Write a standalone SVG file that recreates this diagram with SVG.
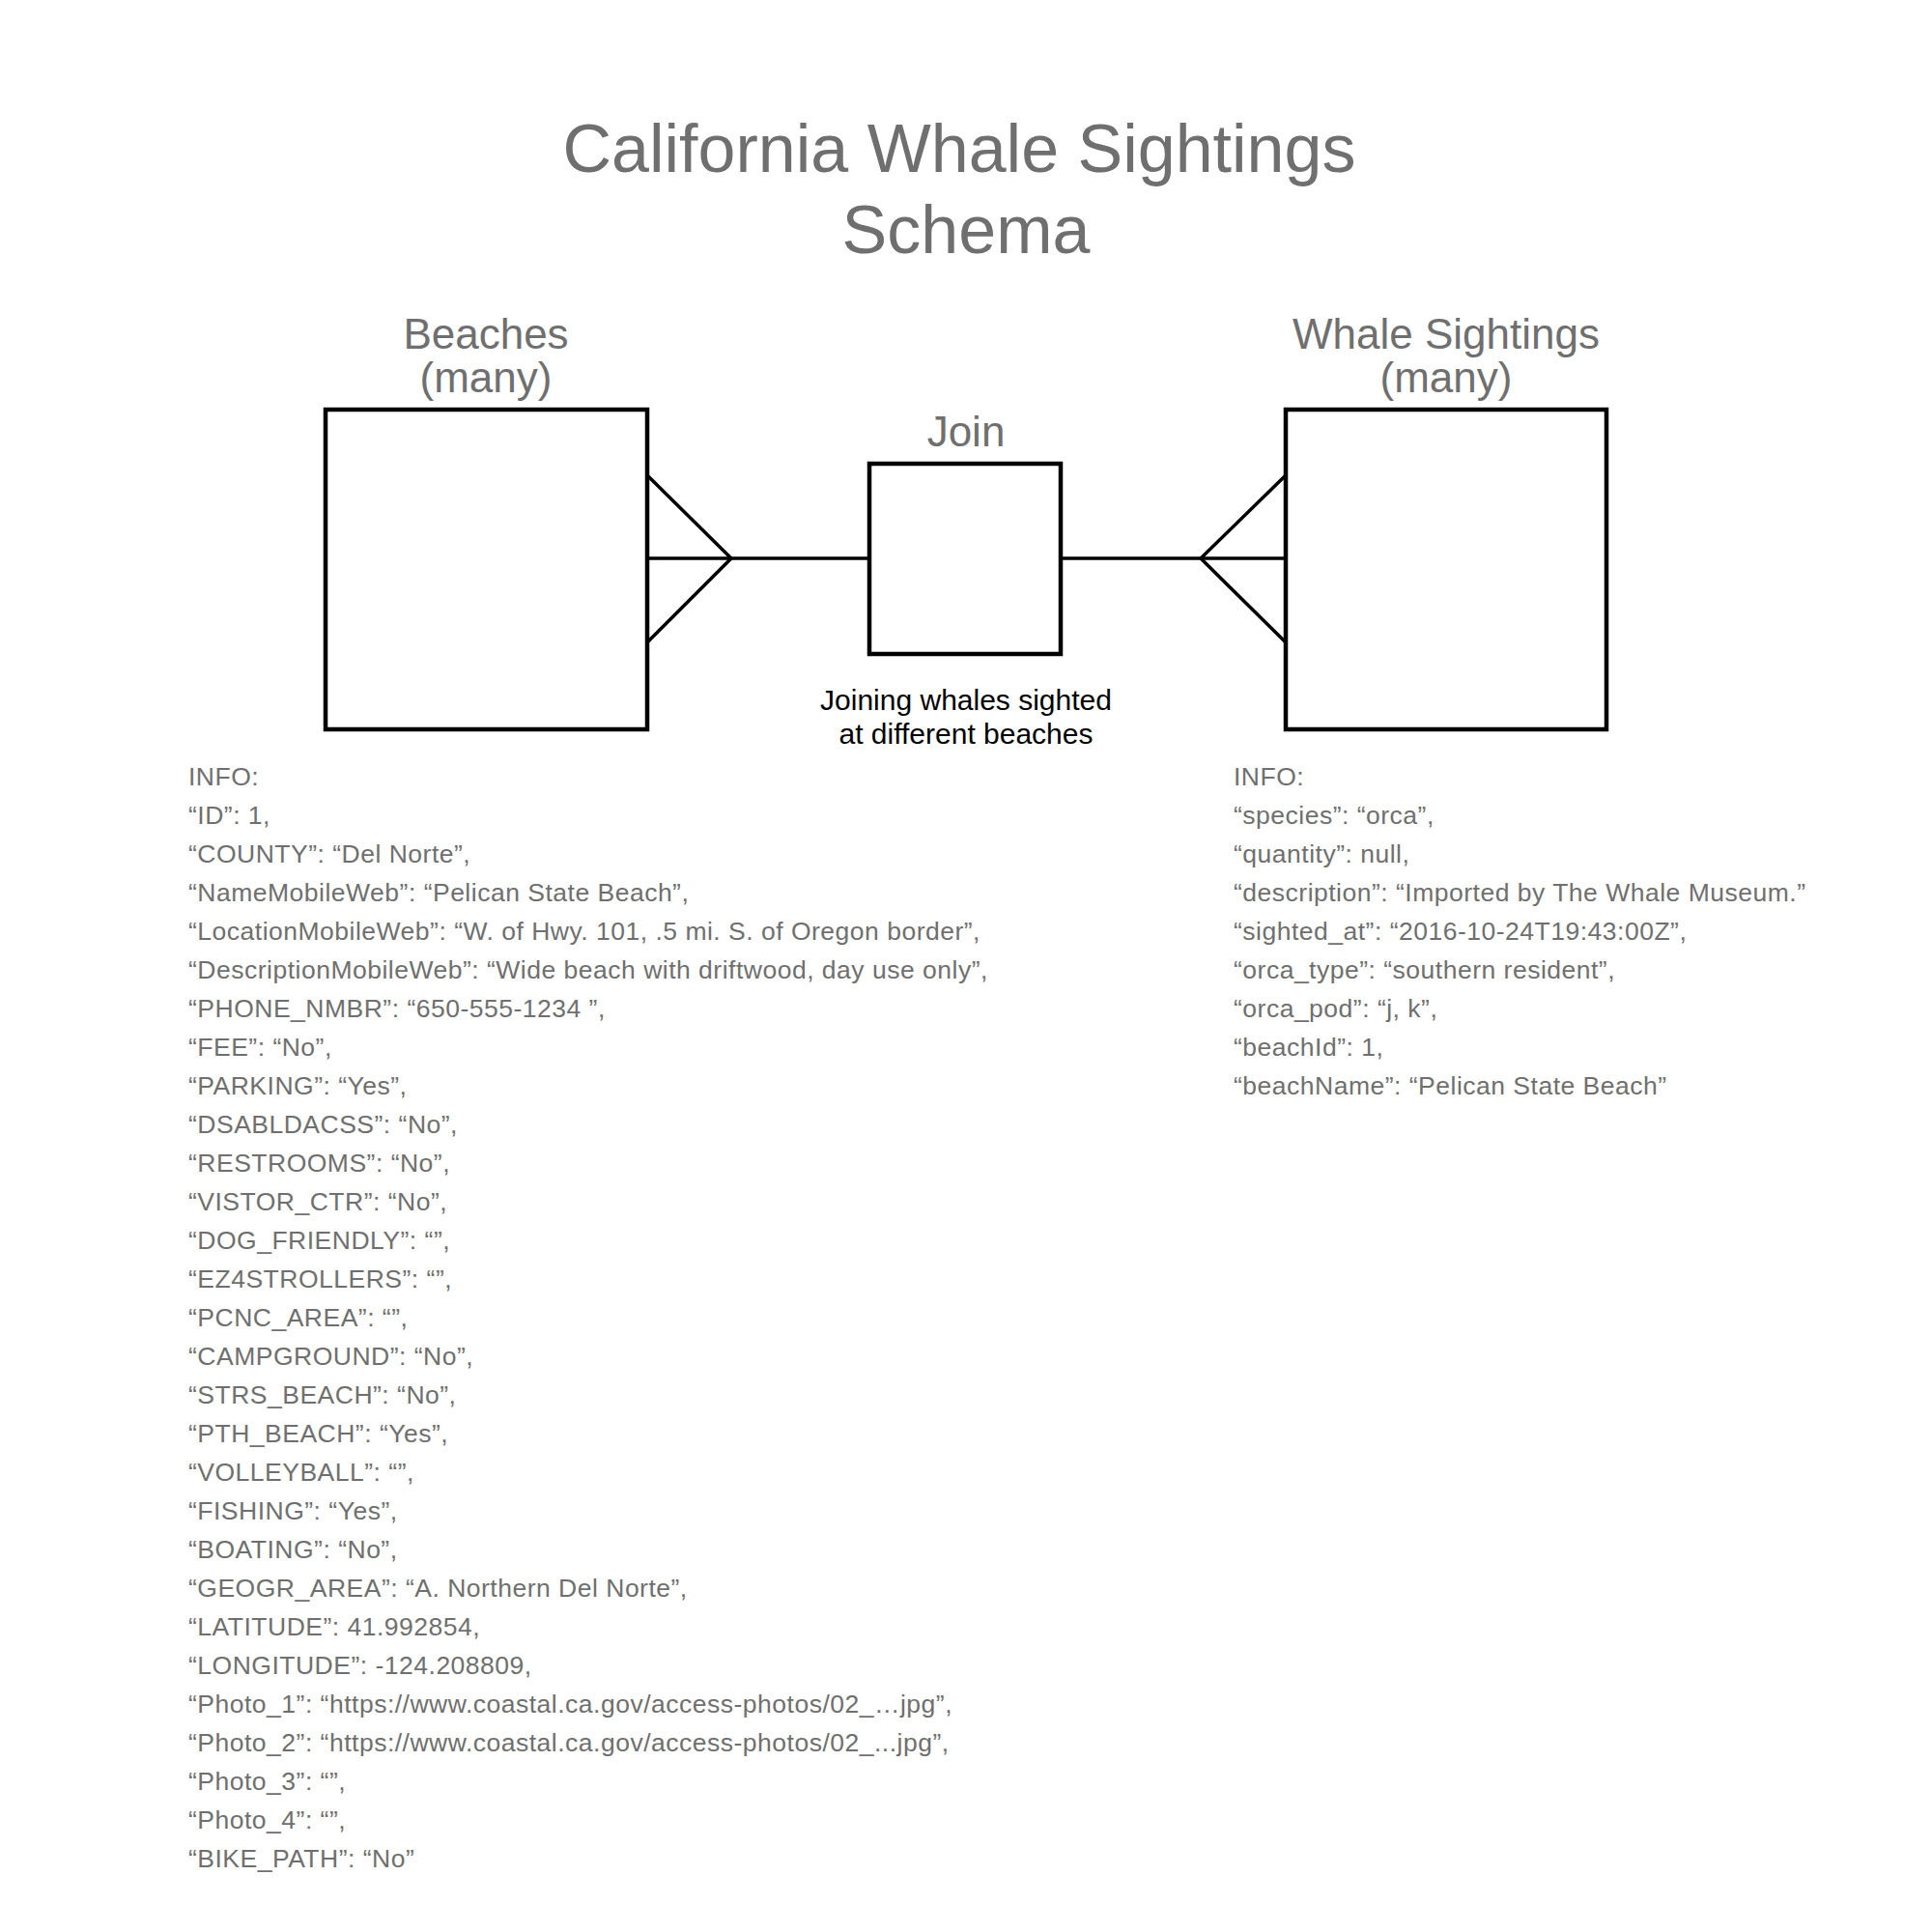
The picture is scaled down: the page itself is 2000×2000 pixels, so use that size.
<svg xmlns="http://www.w3.org/2000/svg" width="2000" height="2000" viewBox="0 0 2000 2000">
<style>
.bg{fill:#ffffff}
.box{fill:#ffffff;stroke:#000000;stroke-width:4.5}
.conn{fill:none;stroke:#000000;stroke-width:3.5;stroke-linejoin:miter}
.title{font-family:"Liberation Sans",Arial,sans-serif;font-size:70px;fill:#6f6f6f;text-anchor:middle}
.label{font-family:"Liberation Sans",Arial,sans-serif;font-size:44px;fill:#6f6f6f;text-anchor:middle}
.note{font-family:"Liberation Sans",Arial,sans-serif;font-size:30px;fill:#000000;text-anchor:middle}
.info{font-family:"Liberation Sans",Arial,sans-serif;font-size:26.5px;letter-spacing:0.5px;fill:#6f6f6f}
</style>
<rect class="bg" x="0" y="0" width="2000" height="2000"/>
<g id="title">
<text class="title" x="993" y="178">California Whale Sightings</text>
<text class="title" x="1000" y="262">Schema</text>
</g>
<g id="connectors">
<path class="conn" d="M670,578 H900"/>
<path class="conn" d="M670,492 L757,578 L670,665"/>
<path class="conn" d="M1098,578 H1331"/>
<path class="conn" d="M1331,492 L1243,578 L1331,665"/>
</g>
<g id="beaches">
<text class="label" x="503" y="361">Beaches</text>
<text class="label" x="503" y="406">(many)</text>
<rect class="box" x="337" y="424" width="333" height="331"/>
</g>
<g id="join">
<text class="label" x="1000" y="462">Join</text>
<rect class="box" x="900" y="480" width="198" height="197"/>
<text class="note" x="1000" y="735">Joining whales sighted</text>
<text class="note" x="1000" y="770">at different beaches</text>
</g>
<g id="whale-sightings">
<text class="label" x="1497" y="361">Whale Sightings</text>
<text class="label" x="1497" y="406">(many)</text>
<rect class="box" x="1331" y="424" width="332" height="331"/>
</g>
<g id="beaches-info">
<text class="info" x="195" y="813">INFO:</text>
<text class="info" x="195" y="853">“ID”: 1,</text>
<text class="info" x="195" y="893">“COUNTY”: “Del Norte”,</text>
<text class="info" x="195" y="933">“NameMobileWeb”: “Pelican State Beach”,</text>
<text class="info" x="195" y="973">“LocationMobileWeb”: “W. of Hwy. 101, .5 mi. S. of Oregon border”,</text>
<text class="info" x="195" y="1013">“DescriptionMobileWeb”: “Wide beach with driftwood, day use only”,</text>
<text class="info" x="195" y="1053">“PHONE_NMBR”: “650-555-1234 ”,</text>
<text class="info" x="195" y="1093">“FEE”: “No”,</text>
<text class="info" x="195" y="1133">“PARKING”: “Yes”,</text>
<text class="info" x="195" y="1173">“DSABLDACSS”: “No”,</text>
<text class="info" x="195" y="1213">“RESTROOMS”: “No”,</text>
<text class="info" x="195" y="1253">“VISTOR_CTR”: “No”,</text>
<text class="info" x="195" y="1293">“DOG_FRIENDLY”: “”,</text>
<text class="info" x="195" y="1333">“EZ4STROLLERS”: “”,</text>
<text class="info" x="195" y="1373">“PCNC_AREA”: “”,</text>
<text class="info" x="195" y="1413">“CAMPGROUND”: “No”,</text>
<text class="info" x="195" y="1453">“STRS_BEACH”: “No”,</text>
<text class="info" x="195" y="1493">“PTH_BEACH”: “Yes”,</text>
<text class="info" x="195" y="1533">“VOLLEYBALL”: “”,</text>
<text class="info" x="195" y="1573">“FISHING”: “Yes”,</text>
<text class="info" x="195" y="1613">“BOATING”: “No”,</text>
<text class="info" x="195" y="1653">“GEOGR_AREA”: “A. Northern Del Norte”,</text>
<text class="info" x="195" y="1693">“LATITUDE”: 41.992854,</text>
<text class="info" x="195" y="1733">“LONGITUDE”: -124.208809,</text>
<text class="info" x="195" y="1773">“Photo_1”: “https://www.coastal.ca.gov/access-photos/02_…jpg”,</text>
<text class="info" x="195" y="1813">“Photo_2”: “https://www.coastal.ca.gov/access-photos/02_...jpg”,</text>
<text class="info" x="195" y="1853">“Photo_3”: “”,</text>
<text class="info" x="195" y="1893">“Photo_4”: “”,</text>
<text class="info" x="195" y="1933">“BIKE_PATH”: “No”</text>
</g>
<g id="whale-info">
<text class="info" x="1277" y="813">INFO:</text>
<text class="info" x="1277" y="853">“species”: “orca”,</text>
<text class="info" x="1277" y="893">“quantity”: null,</text>
<text class="info" x="1277" y="933">“description”: “Imported by The Whale Museum.”</text>
<text class="info" x="1277" y="973">“sighted_at”: “2016-10-24T19:43:00Z”,</text>
<text class="info" x="1277" y="1013">“orca_type”: “southern resident”,</text>
<text class="info" x="1277" y="1053">“orca_pod”: “j, k”,</text>
<text class="info" x="1277" y="1093">“beachId”: 1,</text>
<text class="info" x="1277" y="1133">“beachName”: “Pelican State Beach”</text>
</g>
</svg>
